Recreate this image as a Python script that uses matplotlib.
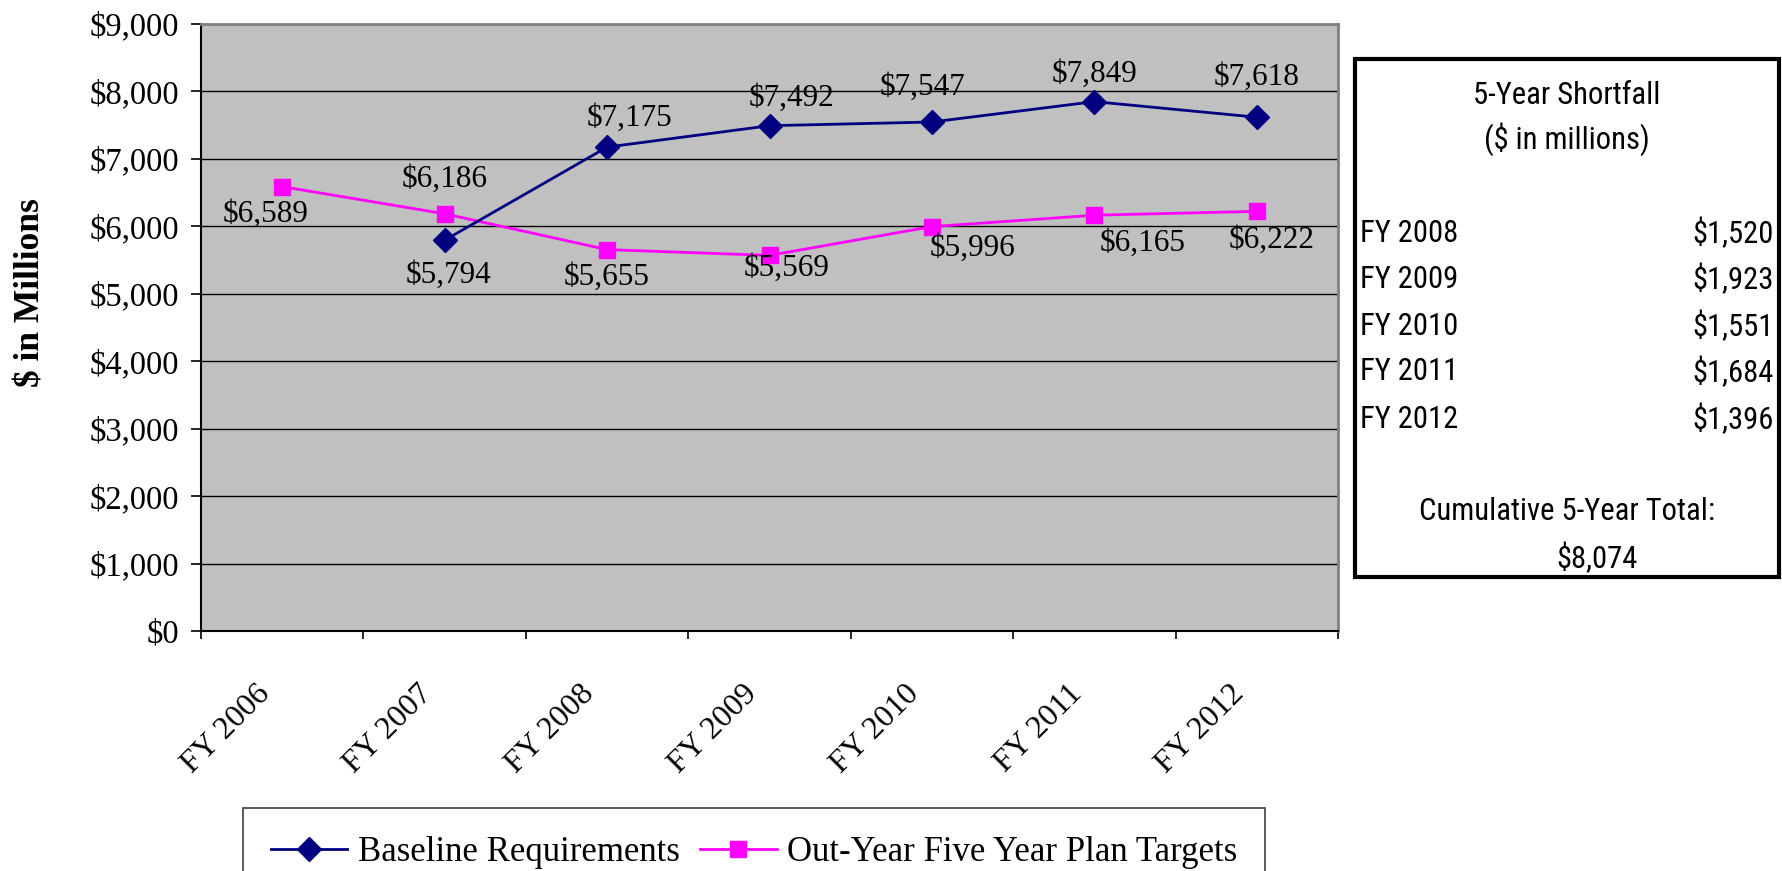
import matplotlib
matplotlib.use("Agg")
import matplotlib.pyplot as plt
import matplotlib.transforms as mtransforms
import matplotlib.font_manager as fm
from matplotlib.textpath import TextPath
from matplotlib.patches import Rectangle
from matplotlib.ticker import FuncFormatter, FixedLocator
import numpy as np

# ---------------- data ----------------
categories = ["FY 2006", "FY 2007", "FY 2008", "FY 2009", "FY 2010", "FY 2011", "FY 2012"]
baseline = [np.nan, 5794, 7175, 7492, 7547, 7849, 7618]
outyear = [6589, 6186, 5655, 5569, 5996, 6165, 6222]
series_names = ["Baseline Requirements", "Out-Year Five Year Plan Targets"]
y_ticks = [0, 1000, 2000, 3000, 4000, 5000, 6000, 7000, 8000, 9000]

table_title = "5-Year Shortfall"
table_subtitle = "($ in millions)"
shortfall_years = ["FY 2008", "FY 2009", "FY 2010", "FY 2011", "FY 2012"]
shortfall_values = ["$1,520", "$1,923", "$1,551", "$1,684", "$1,396"]
cumulative_label = "Cumulative 5-Year Total:"
cumulative_value = "$8,074"

# label offsets (points) - styling only
base_off = [None, (3, -25), (16, 21), (16, 20), (-7, 25), (0, 20), (0, 29)]
out_off = [(-12, -20), (0, 25), (0, -20), (12, -9), (29, -16), (35, -20), (11, -21)]

SERIF = ["Liberation Serif", "DejaVu Serif"]

# pick a condensed sans font if one is available
def pick_narrow():
    prefs = ["Liberation Sans Narrow", "Arial Narrow", "Roboto Condensed",
             "Open Sans Condensed", "DejaVu Sans Condensed", "Noto Sans Condensed"]
    fl = fm.fontManager.ttflist
    for p in prefs:
        for f in fl:
            if f.name == p and f.style == "normal" and f.weight in (400, "normal", "regular"):
                return fm.FontProperties(fname=f.fname)
    for f in fl:
        if f.stretch in ("condensed", "semi-condensed", "extra-condensed") and f.style == "normal" \
                and f.weight in (400, "normal", "regular") and "Sans" in f.name:
            return fm.FontProperties(fname=f.fname)
    return fm.FontProperties(family="Liberation Sans")

NARROW = pick_narrow()
_w10 = TextPath((0, 0), table_title, prop=NARROW.copy(), size=10).get_extents().width
narrow_size = min(26.0, 10 * (183 * 0.72) / _w10)
NARROW.set_size(narrow_size)

W, H = 1782, 871
fig = plt.figure(figsize=(W / 100, H / 100), dpi=100)
ax = fig.add_axes([201 / W, 1 - 631 / H, (1338 - 201) / W, (631 - 24) / H])
ax.set_facecolor("#C0C0C0")

x = np.arange(len(categories))
NAVY = "#000080"
MAG = "#FF00FF"
ax.plot(x, baseline, color=NAVY, lw=2, marker="D", ms=12, mfc=NAVY, mec=NAVY,
        label=series_names[0], zorder=4)
ax.plot(x, outyear, color=MAG, lw=2, marker="s", ms=11, mfc=MAG, mec=MAG,
        label=series_names[1], zorder=3)

def fmt(v):
    return "${:,.0f}".format(v)

for i, v in enumerate(baseline):
    if not np.isnan(v):
        ax.annotate(fmt(v), (x[i], v), xytext=base_off[i], textcoords="offset points",
                    ha="center", va="center", fontsize=22.5, family=SERIF, zorder=5)
for i, v in enumerate(outyear):
    ax.annotate(fmt(v), (x[i], v), xytext=out_off[i], textcoords="offset points",
                ha="center", va="center", fontsize=22.5, family=SERIF, zorder=5)

ax.set_xlim(-0.5, len(categories) - 0.5)
ax.set_ylim(0, 9000)
ax.set_yticks(y_ticks)
ax.yaxis.set_major_formatter(FuncFormatter(lambda v, p: fmt(v)))
ax.grid(axis="y", color="black", lw=1.0)
ax.set_axisbelow(True)

ax.set_xticks(np.arange(-0.5, len(categories), 1.0))
ax.set_xticklabels([])
ax.xaxis.set_minor_locator(FixedLocator(x))
ax.set_xticklabels(categories, minor=True)
ax.tick_params(axis="x", which="major", length=6, width=1.2, color="black", direction="out")
ax.tick_params(axis="x", which="minor", length=0, pad=35)
ax.tick_params(axis="y", length=7, width=1.2, direction="out", pad=9)
for lab in ax.get_yticklabels():
    lab.set_fontfamily(SERIF)
    lab.set_fontsize(23.5)
offset = mtransforms.ScaledTranslation(-19.5 / 72, 0, fig.dpi_scale_trans)
for lab in ax.get_xticklabels(minor=True):
    lab.set_fontfamily(SERIF)
    lab.set_fontsize(23)
    lab.set_rotation(45)
    lab.set_ha("right")
    lab.set_va("top")
    lab.set_rotation_mode("anchor")
    lab.set_transform(lab.get_transform() + offset)

for s in ["top", "right"]:
    ax.spines[s].set_color("#808080")
    ax.spines[s].set_linewidth(2.0)
for s in ["left", "bottom"]:
    ax.spines[s].set_color("black")
    ax.spines[s].set_linewidth(1.5)

fig.text(31 / W, 1 - 293 / H, "$ in Millions", rotation=90, ha="center", va="center",
         fontsize=25.5, fontweight="bold", family=SERIF)

leg = fig.legend(loc="upper center", bbox_to_anchor=(754 / W, 1 - 808 / H), ncol=2,
                 frameon=True, fancybox=False, edgecolor="#404040", framealpha=1,
                 prop={"family": SERIF, "size": 25}, handlelength=2.2,
                 handletextpad=0.3, columnspacing=0.6, borderpad=0.8, borderaxespad=0)
leg.get_frame().set_linewidth(1.2)

# shortfall table box
box = Rectangle((1355 / W, 1 - 577 / H), (1779 - 1355) / W, (577 - 59) / H,
                transform=fig.transFigure, fill=False, edgecolor="black", lw=3)
fig.patches.append(box)
cx = 1567 / W
fig.text(cx, 1 - 95 / H, table_title, ha="center", va="center", fontproperties=NARROW)
fig.text(cx, 1 - 139 / H, table_subtitle, ha="center", va="center", fontproperties=NARROW)
row_y = [233, 279, 326, 372, 419]
for yy, lab, val in zip(row_y, shortfall_years, shortfall_values):
    fig.text(1360 / W, 1 - yy / H, lab, ha="left", va="center", fontproperties=NARROW)
    fig.text(1774 / W, 1 - yy / H, val, ha="right", va="center", fontproperties=NARROW)
fig.text(cx, 1 - 511 / H, cumulative_label, ha="center", va="center", fontproperties=NARROW)
fig.text(1597 / W, 1 - 558 / H, cumulative_value, ha="center", va="center", fontproperties=NARROW)

fig.savefig("out.png", dpi=100)
